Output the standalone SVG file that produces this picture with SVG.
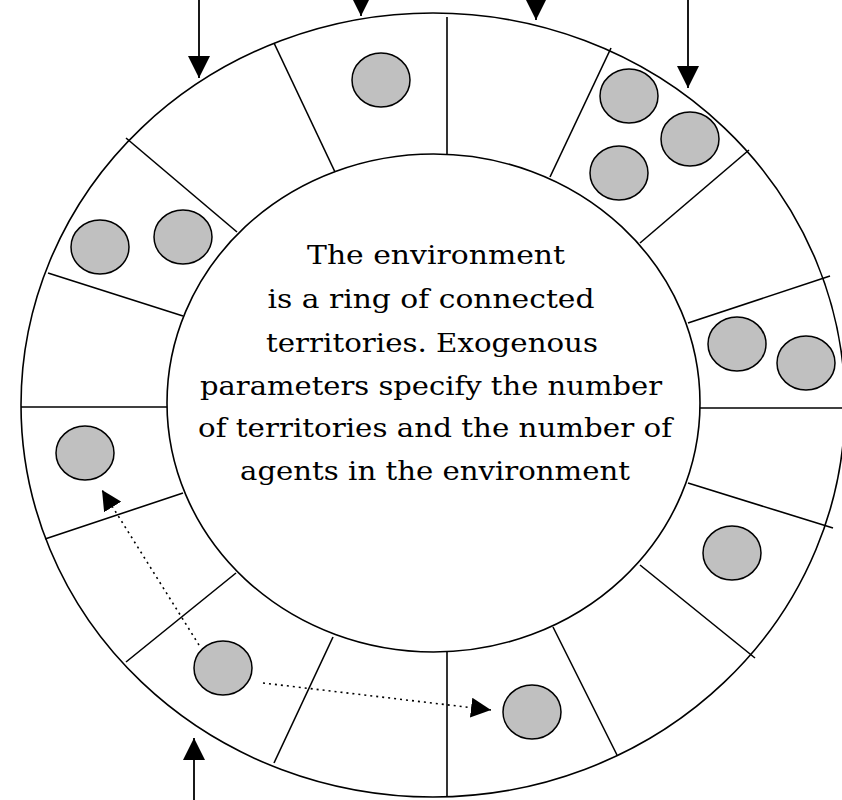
<svg xmlns="http://www.w3.org/2000/svg" width="842" height="800" viewBox="0 0 842 800">
  <style>
    .ring { fill: none; stroke: #000; stroke-width: 1.6; }
    .div { stroke: #000; stroke-width: 1.6; fill: none; }
    .agent { fill: #c0c0c0; stroke: #000; stroke-width: 1.5; }
    .arrow { stroke: #000; stroke-width: 1.8; fill: none; }
    .dotted { stroke: #000; stroke-width: 1.6; stroke-dasharray: 2 4; fill: none; }
    .label { font-family: "DejaVu Serif", "Liberation Serif", serif; font-size: 26.5px; fill: #000; text-anchor: middle; }
  </style>
  <defs>
    <marker id="head" viewBox="0 0 10 10" refX="10" refY="5" markerWidth="22" markerHeight="25" markerUnits="userSpaceOnUse" orient="auto">
      <path d="M0,0 L10,5 L0,10 z" fill="#000"/>
    </marker>
    <marker id="headSmall" viewBox="0 0 10 10" refX="10" refY="5" markerWidth="20" markerHeight="20" markerUnits="userSpaceOnUse" orient="auto">
      <path d="M0,0 L10,5 L0,10 z" fill="#000"/>
    </marker>
  </defs>

  <rect width="842" height="800" fill="#fff"/>

  <g id="environment">
    <ellipse class="ring" cx="433" cy="405" rx="412" ry="392"/>
    <ellipse class="ring" cx="433.5" cy="403" rx="266.5" ry="249"/>
  </g>

  <g id="territories">
    <line class="div" x1="447" y1="17" x2="447" y2="155"/>
    <line class="div" x1="274" y1="43" x2="335" y2="172"/>
    <line class="div" x1="126" y1="138" x2="237" y2="232"/>
    <line class="div" x1="48" y1="273" x2="183" y2="316"/>
    <line class="div" x1="21" y1="407" x2="167" y2="407"/>
    <line class="div" x1="45" y1="539" x2="183" y2="493"/>
    <line class="div" x1="126" y1="662" x2="236" y2="573"/>
    <line class="div" x1="274" y1="763" x2="333" y2="637"/>
    <line class="div" x1="447" y1="652" x2="447" y2="797"/>
    <line class="div" x1="553" y1="627" x2="617" y2="755"/>
    <line class="div" x1="640" y1="565" x2="755" y2="658"/>
    <line class="div" x1="688" y1="483" x2="833" y2="528"/>
    <line class="div" x1="700" y1="408" x2="842" y2="408"/>
    <line class="div" x1="688" y1="323" x2="830" y2="276"/>
    <line class="div" x1="640" y1="243" x2="749" y2="150"/>
    <line class="div" x1="550" y1="177" x2="611" y2="48"/>
  </g>

  <g id="agents">
    <ellipse id="agent1" class="agent" cx="381" cy="80" rx="29" ry="27"/>
    <ellipse id="agent2" class="agent" cx="629" cy="96" rx="29" ry="27"/>
    <ellipse id="agent3" class="agent" cx="690" cy="139" rx="29" ry="27"/>
    <ellipse id="agent4" class="agent" cx="619" cy="173" rx="29" ry="27"/>
    <ellipse id="agent5" class="agent" cx="100" cy="247" rx="29" ry="27"/>
    <ellipse id="agent6" class="agent" cx="183" cy="237" rx="29" ry="27"/>
    <ellipse id="agent7" class="agent" cx="85" cy="453" rx="29" ry="27"/>
    <ellipse id="agent8" class="agent" cx="737" cy="344" rx="29" ry="27"/>
    <ellipse id="agent9" class="agent" cx="806" cy="363" rx="29" ry="27"/>
    <ellipse id="agent10" class="agent" cx="732" cy="553" rx="29" ry="27"/>
    <ellipse id="agent11" class="agent" cx="223" cy="668" rx="29" ry="27"/>
    <ellipse id="agent12" class="agent" cx="532" cy="712" rx="29" ry="27"/>
  </g>

  <g id="description">
    <text class="label" x="436" y="264" textLength="258" lengthAdjust="spacingAndGlyphs">The environment</text>
    <text class="label" x="431" y="308" textLength="327" lengthAdjust="spacingAndGlyphs">is a ring of connected</text>
    <text class="label" x="432" y="352" textLength="332" lengthAdjust="spacingAndGlyphs">territories. Exogenous</text>
    <text class="label" x="431" y="395" textLength="462" lengthAdjust="spacingAndGlyphs">parameters specify the number</text>
    <text class="label" x="435" y="437" textLength="474" lengthAdjust="spacingAndGlyphs">of territories and the number of</text>
    <text class="label" x="435" y="480" textLength="390" lengthAdjust="spacingAndGlyphs">agents in the environment</text>
  </g>

  <g id="connectors">
    <line class="arrow" x1="199" y1="0" x2="199" y2="78" marker-end="url(#head)"/>
    <line class="arrow" x1="361" y1="-20" x2="361" y2="16" marker-end="url(#head)"/>
    <line class="arrow" x1="536" y1="-20" x2="536" y2="20" marker-end="url(#head)"/>
    <line class="arrow" x1="688" y1="0" x2="688" y2="88" marker-end="url(#head)"/>
    <line class="arrow" x1="194" y1="800" x2="194" y2="738" marker-end="url(#head)"/>
    <line class="dotted" x1="199" y1="645" x2="102" y2="490" marker-end="url(#headSmall)"/>
    <line class="dotted" x1="263" y1="683" x2="491" y2="710" marker-end="url(#headSmall)"/>
  </g>
</svg>
